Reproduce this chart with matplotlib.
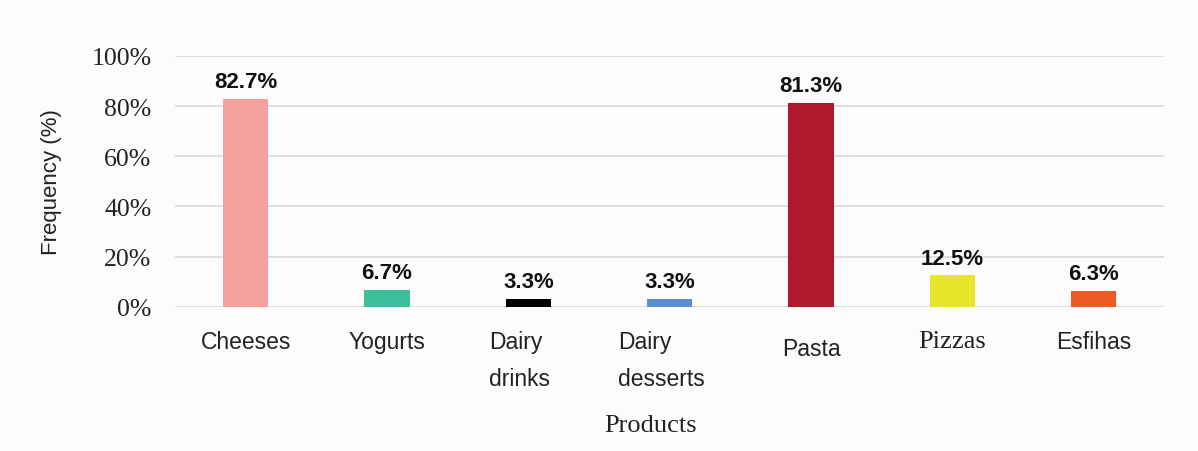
import matplotlib
matplotlib.use("Agg")
import matplotlib.pyplot as plt
from matplotlib.ticker import FuncFormatter

categories = ["Cheeses", "Yogurts", "Dairy\ndrinks", "Dairy\ndesserts", "Pasta", "Pizzas", "Esfihas"]
values = [82.7, 6.7, 3.3, 3.3, 81.3, 12.5, 6.3]
value_labels = ["82.7%", "6.7%", "3.3%", "3.3%", "81.3%", "12.5%", "6.3%"]
colors = ["#F4A09F", "#3DBE9A", "#000000", "#5B8FCF", "#B0182E", "#E8E62A", "#EE5A24"]
yticks = [0, 20, 40, 60, 80, 100]

SANS = "Liberation Sans"
SERIF = "Liberation Serif"

fig = plt.figure(figsize=(11.98, 4.52), dpi=100)
fig.patch.set_facecolor("#fcfcfc")
ax = fig.add_axes([0.146, 0.319, 0.826, 0.555])
ax.set_facecolor("#fcfcfc")

x = list(range(len(categories)))
ax.bar(x, values, width=0.32, color=colors, zorder=3)

ax.set_xlim(-0.5, len(categories) - 0.5)
ax.set_ylim(0, 100)
ax.set_yticks(yticks)
ax.yaxis.set_major_formatter(FuncFormatter(lambda v, _: f"{v:.0f}%"))
ax.tick_params(axis="y", length=0, pad=17, labelsize=18.5)
for lbl in ax.get_yticklabels():
    lbl.set_fontfamily(SERIF)
    lbl.set_color("#222222")
ax.grid(axis="y", color="#d9d9d9", linewidth=1.2, zorder=0)
for s in ax.spines.values():
    s.set_visible(False)
ax.set_xticks(x)
ax.set_xticklabels([])
ax.tick_params(axis="x", length=0)

# value labels
for xi, v, t in zip(x, values, value_labels):
    ax.annotate(t, xy=(xi, v), xytext=(0, 5), textcoords="offset points",
                ha="center", va="bottom", fontsize=16, fontweight="bold",
                fontfamily=SANS, color="#111111")

# category labels (the original mixes fonts and offsets)
for xi, cat in zip(x, categories):
    fam = SERIF if cat == "Pizzas" else SANS
    off = -22 if cat == "Pasta" else -17
    ax.annotate(cat, xy=(xi, 0), xycoords=("data", "axes fraction"),
                xytext=(-6 if "\n" in cat else 0, off), textcoords="offset points",
                ha="center", va="top", multialignment="left", linespacing=1.75,
                fontsize=19 if fam == SERIF else 16.5, fontfamily=fam, color="#222222")

ax.set_ylabel("Frequency (%)", fontsize=16, fontfamily=SANS, color="#222222", labelpad=21)
fig.text(0.543, 0.057, "Products", ha="center", va="center",
         fontsize=19, fontfamily=SERIF, color="#222222")

fig.savefig("out.png", dpi=100, facecolor=fig.get_facecolor())
